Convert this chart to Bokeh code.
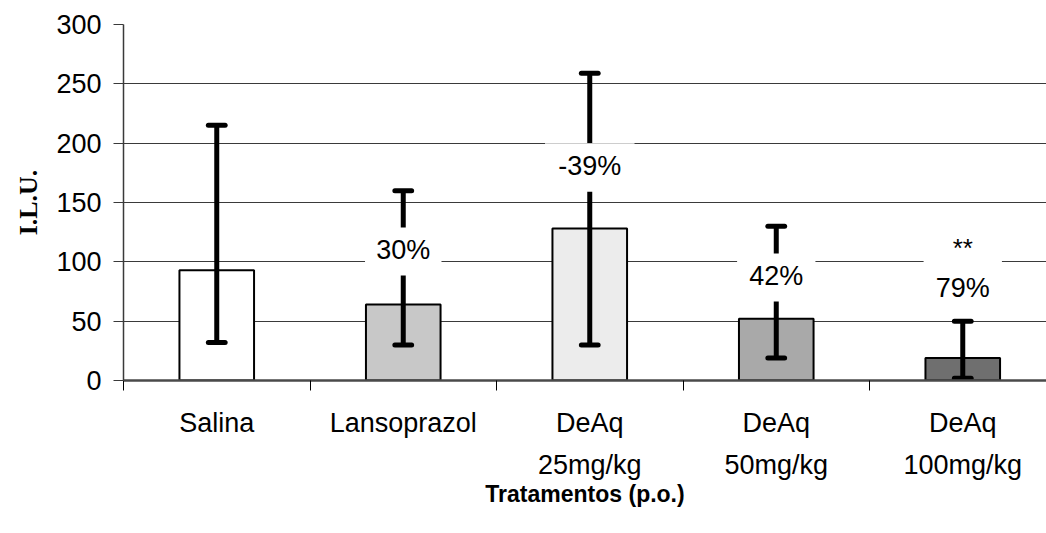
from bokeh.plotting import figure
from bokeh.models import Range1d, FixedTicker, ColumnDataSource
from bokeh.core.properties import value
from bokeh.embed import file_html
from bokeh.resources import INLINE

# Data: ulcer lesion index (I.L.U.) per treatment
categories = ["Salina", "Lansoprazol", "DeAq\n25mg/kg", "DeAq\n50mg/kg", "DeAq\n100mg/kg"]
means = [93, 64, 128, 52, 19]
err_low = [32, 30, 30, 19, 2]
err_high = [215, 160, 259, 130, 50]
pct_labels = ["", "30%", "-39%", "42%", "79%"]
signif = ["", "", "", "", "**"]
y_ticks = [0, 50, 100, 150, 200, 250, 300]

# Layout of the annotations (y in axis units, widths in category units)
pct_y = [None, 110, 181, 88, 78]
box_top = [None, 129, 200, 107, 125]
box_bottom = [None, 88.5, 159, 66.6, 57]
box_w = [None, 0.41, 0.48, 0.42, 0.42]
signif_y = 112

bar_colors = ["#ffffff", "#c8c8c8", "#ececec", "#a9a9a9", "#6f6f6f"]
FONT = "Liberation Sans"

xs = [i + 0.5 for i in range(len(categories))]

p = figure(width=1046, height=533, output_backend="svg", toolbar_location=None,
           x_range=Range1d(0, 4.949), y_range=Range1d(0, 300),
           min_border_left=123, min_border_right=0, min_border_top=24,
           min_border_bottom=153, outline_line_color=None)
p.background_fill_color = "white"
p.border_fill_color = "white"

# bars
bars = ColumnDataSource(dict(x=xs, top=means, color=bar_colors))
p.vbar(x="x", top="top", bottom=0, width=0.4, source=bars,
       fill_color="color", line_color="black", line_width=2)

# error bars
cap = 0.045
err = ColumnDataSource(dict(x=xs, lo=err_low, hi=err_high,
                            x0=[x - cap for x in xs], x1=[x + cap for x in xs]))
p.segment(x0="x", y0="lo", x1="x", y1="hi", source=err, line_color="black",
          line_width=5)
p.segment(x0="x0", y0="hi", x1="x1", y1="hi", source=err, line_color="black",
          line_width=5, line_cap="round")
p.segment(x0="x0", y0="lo", x1="x1", y1="lo", source=err, line_color="black",
          line_width=5, line_cap="round")

# white label boxes with percentage text
idx = [i for i, t in enumerate(pct_labels) if t]
boxes = ColumnDataSource(dict(
    x=[xs[i] for i in idx],
    top=[box_top[i] for i in idx],
    bottom=[box_bottom[i] for i in idx],
    w=[box_w[i] for i in idx],
    y=[pct_y[i] for i in idx],
    text=[pct_labels[i] for i in idx],
))
p.vbar(x="x", top="top", bottom="bottom", width="w", source=boxes,
       fill_color="white", line_color=None)
p.text(x="x", y="y", text="text", source=boxes, text_align="center",
       text_baseline="middle", text_font=value(FONT),
       text_font_size="27px", text_color="black")

sidx = [i for i, t in enumerate(signif) if t]
sig = ColumnDataSource(dict(x=[xs[i] for i in sidx], y=[signif_y] * len(sidx),
                            text=[signif[i] for i in sidx]))
p.text(x="x", y="y", text="text", source=sig, text_align="center",
       text_baseline="middle", text_font=value(FONT),
       text_font_size="26px", text_color="black")

# grid
p.xgrid.grid_line_color = None
p.ygrid.ticker = FixedTicker(ticks=y_ticks)
p.ygrid.grid_line_color = "#3a3a3a"
p.ygrid.grid_line_width = 1

# y axis
p.yaxis.ticker = FixedTicker(ticks=y_ticks)
p.yaxis.axis_label = "I.L.U."
p.yaxis.axis_label_text_font = "Liberation Serif"
p.yaxis.axis_label_text_font_style = "bold"
p.yaxis.axis_label_text_font_size = "26px"
p.yaxis.axis_label_text_color = "black"
p.yaxis.axis_label_standoff = 10
p.yaxis.major_label_text_font = FONT
p.yaxis.major_label_text_font_size = "27px"
p.yaxis.major_label_text_color = "black"
p.yaxis.major_label_standoff = 12
p.yaxis.major_tick_out = 10
p.yaxis.major_tick_in = 0
p.yaxis.minor_tick_line_color = None
p.yaxis.axis_line_color = "#3a3a3a"
p.yaxis.axis_line_width = 1.5
p.yaxis.major_tick_line_color = "#3a3a3a"

# x axis: category boundaries as tick marks, names centred between them
p.xaxis.ticker = FixedTicker(ticks=xs, minor_ticks=list(range(len(categories) + 1)))
p.xaxis.major_label_overrides = {x: c for x, c in zip(xs, categories)}
p.xaxis.major_tick_out = 0
p.xaxis.major_tick_in = 0
p.xaxis.minor_tick_out = 10
p.xaxis.minor_tick_in = 0
p.xaxis.minor_tick_line_color = "black"
p.xaxis.axis_line_color = "#4a4a4a"
p.xaxis.axis_line_width = 2.5
p.xaxis.major_label_text_font = FONT
p.xaxis.major_label_text_font_size = "27px"
p.xaxis.major_label_text_color = "black"
p.xaxis.major_label_text_line_height = 1.43
p.xaxis.major_label_standoff = 17
p.xaxis.axis_label = "Tratamentos (p.o.)"
p.xaxis.axis_label_text_font = FONT
p.xaxis.axis_label_text_font_style = "bold"
p.xaxis.axis_label_text_font_size = "23px"
p.xaxis.axis_label_text_color = "black"
p.xaxis.axis_label_standoff = -2

open("out.html", "w").write(file_html(p, INLINE))
